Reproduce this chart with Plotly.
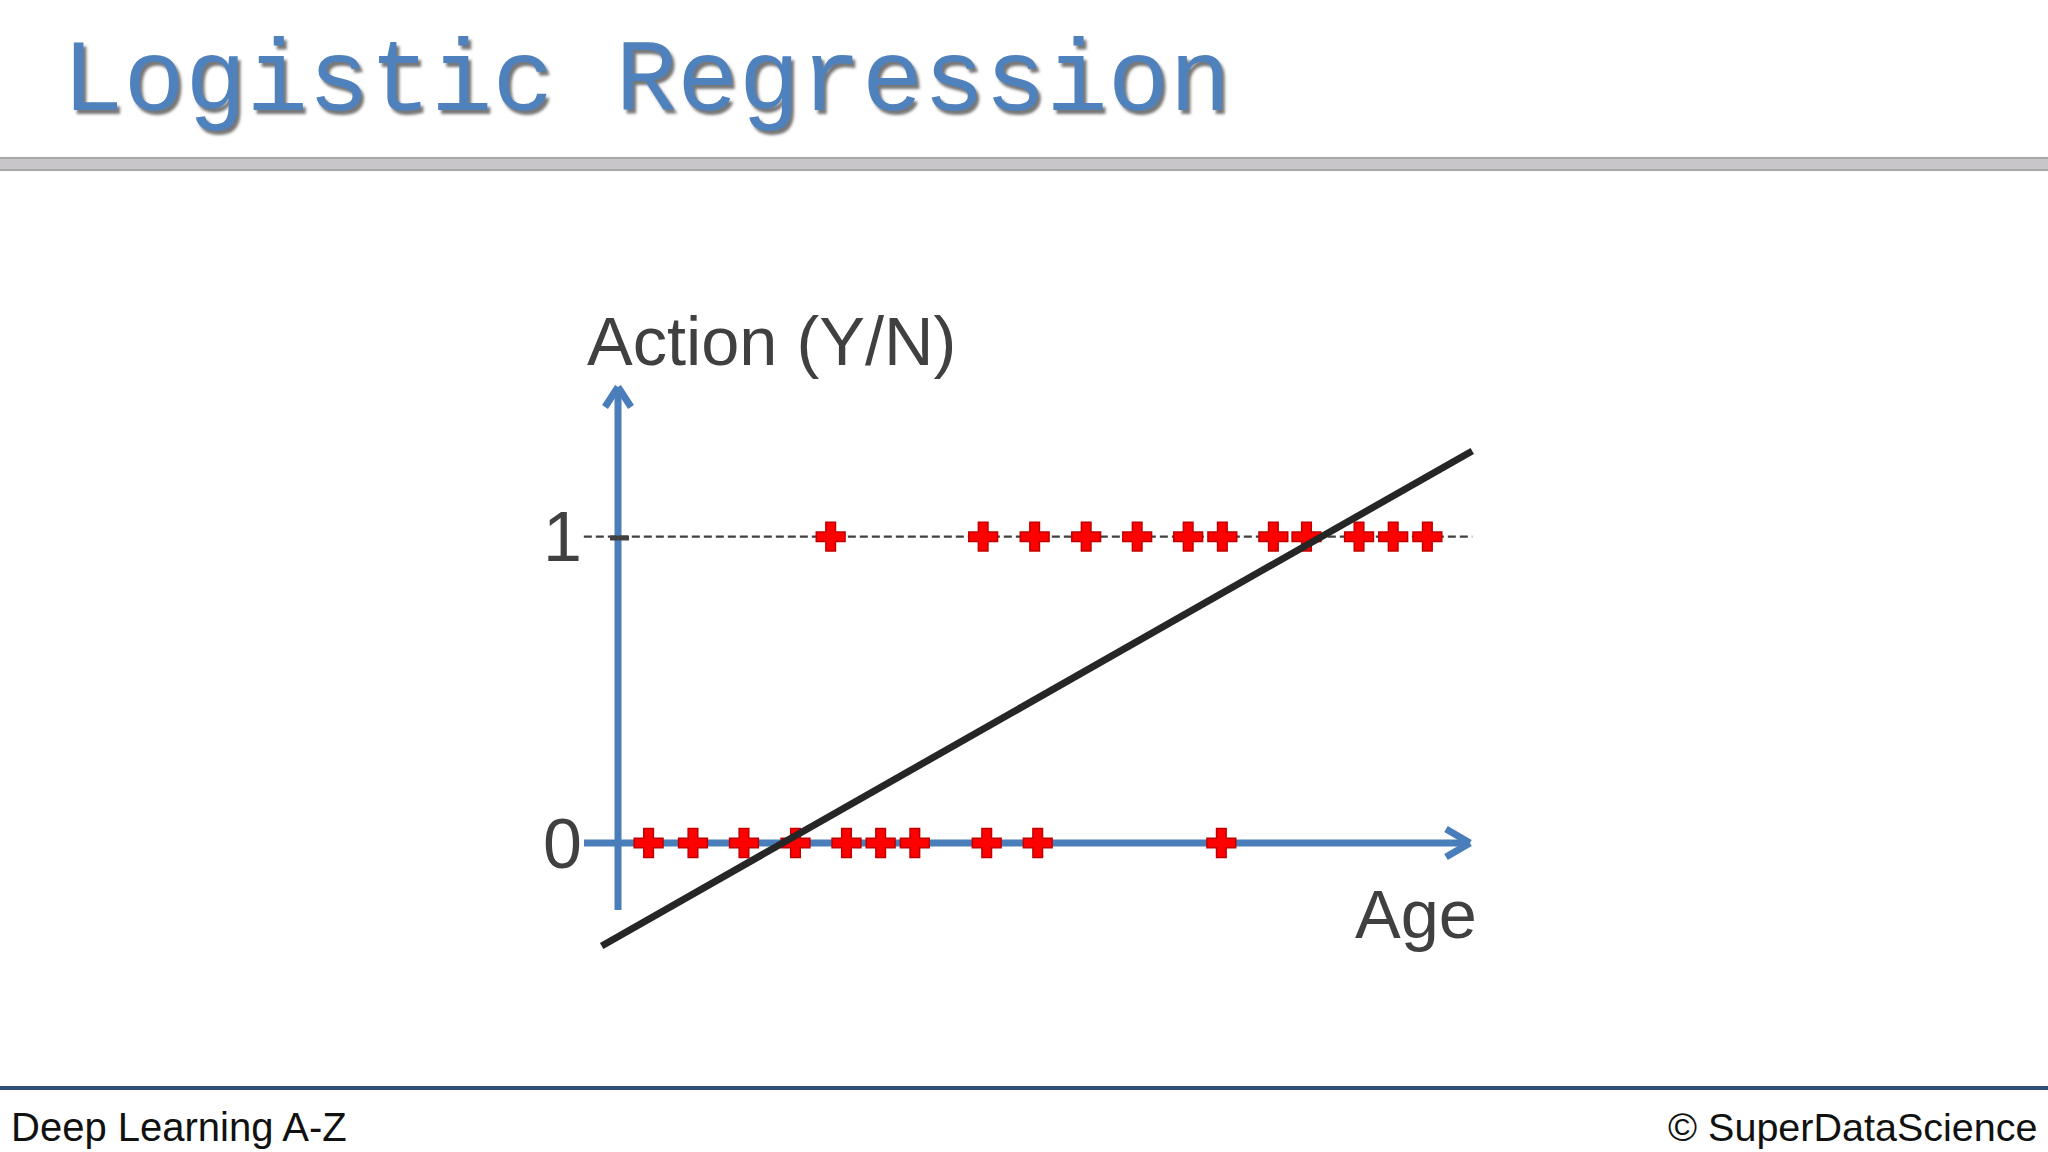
import plotly.graph_objects as go

# values, age is in arbitrary units
age_no = [0.6, 1.47, 2.47, 3.48, 4.48, 5.15, 5.82, 7.23, 8.23, 11.83]
age_yes = [4.17, 7.16, 8.17, 9.18, 10.18, 11.18, 11.85, 12.85, 13.5, 14.53, 15.2, 15.87]
action_no = [0] * len(age_no)
action_yes = [1] * len(age_yes)
line_age = [-0.32, 16.75]
line_action = [-0.336, 1.28]
dash_age = [-0.67, 16.75]
dash_action = [1, 1]
y_ticks = [0, 1]
y_tick_labels = ["0", "1"]

BLUE = "#4a7ebb"
GREY_TEXT = "#404040"
W, H = 2048, 1152
PX_X = 51.0
PX_Y = 306.3
X0, Y0 = 618, 843


def dx(px):
    return (px - X0) / PX_X


def dy(py):
    return (Y0 - py) / PX_Y


fig = go.Figure()

fig.add_trace(go.Scatter(x=dash_age, y=dash_action, mode="lines", showlegend=False,
                         line=dict(color=GREY_TEXT, width=2.2, dash="8px,4px")))
fig.add_trace(go.Scatter(x=age_no, y=action_no, mode="markers", showlegend=False,
                         marker=dict(symbol="cross", size=24, color="#ff0000",
                                     line=dict(color="#c00000", width=1.5))))
fig.add_trace(go.Scatter(x=age_yes, y=action_yes, mode="markers", showlegend=False,
                         marker=dict(symbol="cross", size=24, color="#ff0000",
                                     line=dict(color="#c00000", width=1.5))))
fig.add_trace(go.Scatter(x=line_age, y=line_action, mode="lines", showlegend=False,
                         line=dict(color="#262626", width=7)))

# hand drawn looking axes with open arrow heads
shapes = []
for x_a, y_a, x_b, y_b in [
    (618, 910, 618, 387),
    (605, 407, 618, 387),
    (631, 407, 618, 387),
    (584, 843, 1470, 843),
    (1446, 829, 1470, 843),
    (1446, 857, 1470, 843),
]:
    shapes.append(dict(type="line", xref="x", yref="y", layer="below",
                       x0=dx(x_a), y0=dy(y_a), x1=dx(x_b), y1=dy(y_b),
                       line=dict(color=BLUE, width=7)))
shapes.append(dict(type="line", xref="x", yref="y", x0=dx(610), x1=dx(629), y0=dy(538), y1=dy(538),
                   line=dict(color=GREY_TEXT, width=5)))

# header bar and footer rule
shapes.append(dict(type="rect", xref="paper", yref="paper", x0=-0.01, x1=1.01,
                   y0=1 - 170 / H, y1=1 - 158 / H, layer="below",
                   fillcolor="#c8c6c8", line=dict(color="#a8a6a8", width=2)))
shapes.append(dict(type="line", xref="paper", yref="paper", x0=0, x1=1,
                   y0=1 - 1088 / H, y1=1 - 1088 / H, line=dict(color="#2f4f7f", width=4)))

annotations = [
    dict(text="Action (Y/N)", xref="paper", yref="paper", x=585 / W, y=1 - 341 / H,
         xanchor="left", yanchor="middle", showarrow=False,
         font=dict(family="Liberation Sans", size=68.5, color=GREY_TEXT)),
    dict(text="Age", xref="paper", yref="paper", x=1479 / W, y=1 - 914 / H,
         xanchor="right", yanchor="middle", showarrow=False,
         font=dict(family="Liberation Sans", size=68.5, color=GREY_TEXT)),
    dict(text="Deep Learning A-Z", xref="paper", yref="paper", x=9 / W, y=1 - 1127 / H,
         xanchor="left", yanchor="middle", showarrow=False,
         font=dict(family="Liberation Sans", size=40, color="#111111")),
    dict(text="© SuperDataScience", xref="paper", yref="paper", x=2039 / W, y=1 - 1127 / H,
         xanchor="right", yanchor="middle", showarrow=False,
         font=dict(family="Liberation Sans", size=39.5, color="#111111")),
]

fig.update_layout(
    width=W,
    height=H,
    margin=dict(l=0, r=0, t=0, b=0),
    paper_bgcolor="#ffffff",
    plot_bgcolor="rgba(0,0,0,0)",
    showlegend=False,
    shapes=shapes,
    annotations=annotations,
    title=dict(text="Logistic Regression", xref="paper", yref="paper", x=62 / W, xanchor="left",
               y=1 - 74 / H, yanchor="middle",
               font=dict(family="Liberation Mono", size=102.5, color="#4f81bd",
                         shadow="3px 4px 3px #777777")),
    xaxis=dict(range=[dx(0), dx(W)], visible=False, fixedrange=True),
    yaxis=dict(range=[dy(H), dy(0)], anchor="free", position=584 / W, tickmode="array",
               tickvals=y_ticks, ticktext=y_tick_labels, ticks="", showgrid=False, zeroline=False,
               showline=False, ticklabelstandoff=2,
               tickfont=dict(family="Liberation Sans", size=70, color=GREY_TEXT)),
)

fig.write_html("out.html", config={"displayModeBar": False},
               post_script="document.body.style.margin='0';document.body.style.overflow='hidden';")
